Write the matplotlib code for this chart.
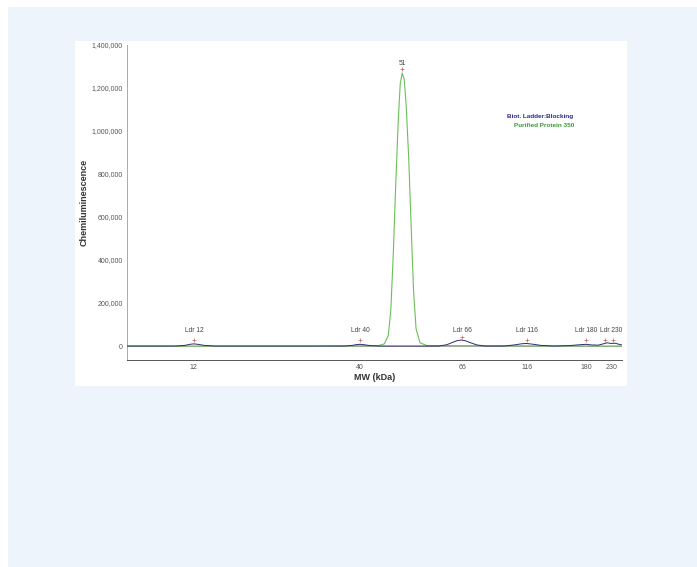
import matplotlib
matplotlib.use("Agg")
import matplotlib.pyplot as plt
from matplotlib.patches import Rectangle

plt.rcParams['font.family'] = ['Liberation Sans', 'DejaVu Sans']

# migration position (0..100 across the plot) of the ladder peaks and their MW
ladder_pos = [13.5, 47.1, 67.7, 80.8, 92.7, 97.8]
ladder_mw = ['12', '40', '66', '116', '180', '230']

# ladder (blue) trace
ladder_x = [0, 9.7, 11.7, 12.7, 13.5, 14.3, 15.6, 17.8, 44.0, 45.5, 46.5, 47.1,
            47.9, 49.1, 51.1, 63.0, 64.6, 65.9, 66.7, 67.5, 68.3, 69.3, 70.7, 72.3,
            76.2, 78.2, 79.6, 80.6, 81.8, 83.6, 86.3, 89.3, 91.5, 92.7, 93.9, 95.2,
            96.2, 97.0, 97.8, 98.6, 99.4, 100]
ladder_y = [0, 0, 3000, 8000, 10000, 8000, 3000, 0, 0, 3000, 7000, 8000,
            6000, 2000, 0, 0, 6000, 18000, 25000, 28000, 25000, 16000, 5000, 0,
            0, 5000, 10000, 12000, 9000, 3000, 0, 2000, 6000, 8000, 5000, 4000,
            10000, 15000, 12000, 13000, 8000, 5000]

# purified protein (green) trace
protein_x = [0, 38.0, 50.8, 52.0, 52.8, 53.3, 53.8, 54.3, 54.8, 55.2, 55.6, 56.0,
             56.4, 56.9, 57.4, 57.9, 58.4, 59.2, 60.6, 100]
protein_y = [0, 0, 2000, 10000, 50000, 170000, 430000, 760000, 1050000, 1220000,
             1270000, 1240000, 1120000, 880000, 560000, 250000, 80000, 15000, 2000, 0]

# peak labels
peak_labels = [(13.5, 'Ldr 12'), (47.1, 'Ldr 40'), (67.7, 'Ldr 66'),
               (80.8, 'Ldr 116'), (92.7, 'Ldr 180'), (97.8, 'Ldr 230')]
peak_marks_x = [13.5, 47.1, 67.7, 80.8, 92.7, 96.6, 98.2]
peak_marks_y = [28000, 26000, 40000, 30000, 28000, 28000, 30000]
protein_peak = (55.6, '51')

yticks = [0, 200000, 400000, 600000, 800000, 1000000, 1200000, 1400000]

fig = plt.figure(figsize=(6.97, 5.67), dpi=100)
fig.patches.append(Rectangle((8 / 697, 0), 1, 1 - 7 / 567, transform=fig.transFigure,
                             facecolor='#eef4fc', edgecolor='none', zorder=-2))
fig.patches.append(Rectangle((75 / 697, 1 - 386 / 567), 552 / 697, 345 / 567,
                             transform=fig.transFigure, facecolor='white',
                             edgecolor='none', zorder=-1))

ax = fig.add_axes([127 / 697, 1 - 360 / 567, 495 / 697, 315 / 567])
ax.set_facecolor('none')
ax.axhline(0, color='#9a9a9a', lw=0.6, zorder=1)
ax.plot(ladder_x, ladder_y, color='#2c2c6c', lw=0.7, zorder=3)
ax.plot(protein_x, protein_y, color='#6cbf5a', lw=0.8, zorder=2)

ax.set_xlim(0, 100)
ax.set_ylim(-65000, 1400000)
ax.set_yticks(yticks)
ax.set_yticklabels([f'{v:,}' for v in yticks])
ax.set_xticks(ladder_pos)
ax.set_xticklabels(ladder_mw)
ax.tick_params(axis='y', labelsize=5, labelcolor='#555555', length=0, pad=3)
ax.tick_params(axis='x', labelsize=5, labelcolor='#555555', length=0, pad=3)

for x, t in peak_labels:
    ax.text(x, 55000, t, fontsize=4.8, color='#444444', ha='center', va='bottom')
ax.scatter(peak_marks_x, peak_marks_y, marker='+', s=6, lw=0.5, color='#c06060', zorder=4)
ax.text(protein_peak[0], 1300000, protein_peak[1], fontsize=4.8, color='#444444',
        ha='center', va='bottom')
ax.scatter([protein_peak[0]], [1290000], marker='+', s=6, lw=0.5, color='#c06060', zorder=4)

for s in ['top', 'right']:
    ax.spines[s].set_visible(False)
ax.spines['left'].set_color('#aaaaaa')
ax.spines['bottom'].set_color('#555555')
ax.spines['left'].set_linewidth(0.7)
ax.spines['bottom'].set_linewidth(0.7)

ax.set_ylabel('Chemiluminescence', fontsize=6.5, fontweight='bold', color='#333333')
ax.yaxis.set_label_coords(-0.078, 0.5)
ax.set_xlabel('MW (kDa)', fontsize=6.5, fontweight='bold', color='#333333', labelpad=1)

ax.text(0.835, 0.768, 'Biot. Ladder:Blocking', transform=ax.transAxes, fontsize=4.6,
        fontweight='bold', color='#2b2b8c', ha='center')
ax.text(0.843, 0.74, 'Purified Protein 350', transform=ax.transAxes, fontsize=4.6,
        fontweight='bold', color='#3a9a3a', ha='center')

fig.savefig('out.png', dpi=100)
